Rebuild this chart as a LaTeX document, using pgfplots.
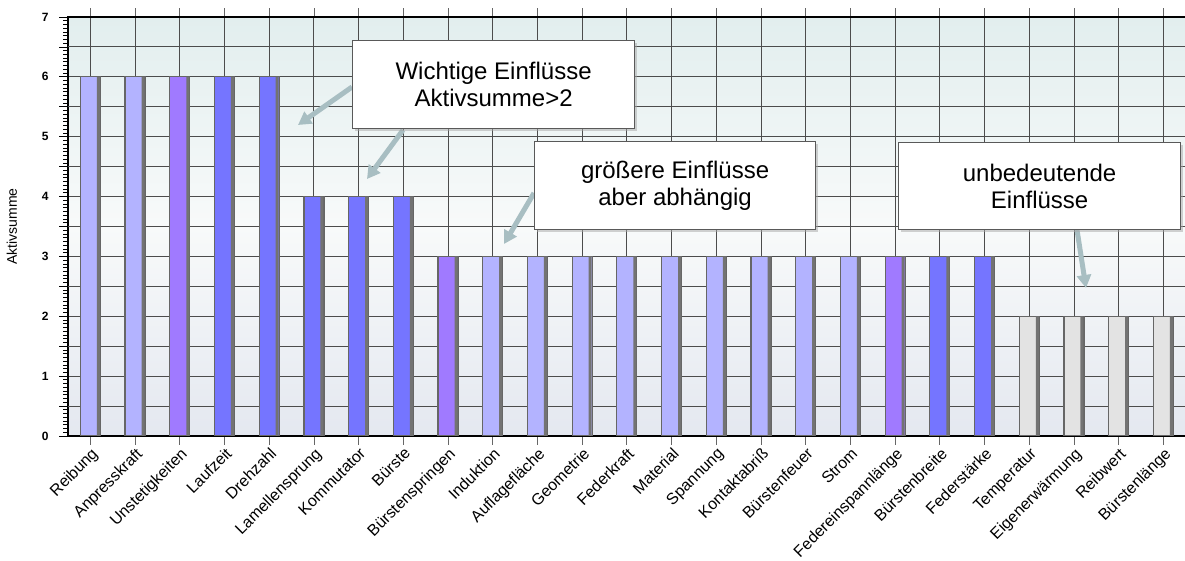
\documentclass[border=0pt]{standalone}
\usepackage{pgfplots}
\pgfplotsset{compat=1.18}
\usepackage{fontspec}
\setmainfont{Liberation Sans}
\usetikzlibrary{arrows.meta,shadows}

\definecolor{lav}{RGB}{179,179,255}
\definecolor{pur}{RGB}{160,122,255}
\definecolor{blu}{RGB}{117,117,255}
\definecolor{lgr}{RGB}{227,227,227}
\definecolor{arr}{RGB}{168,190,194}
\definecolor{bgtop}{RGB}{226,238,238}
\definecolor{bgmid}{RGB}{248,250,250}
\definecolor{bgbot}{RGB}{228,232,240}

\begin{document}
\begin{tikzpicture}[x=1pt,y=1pt]
\useasboundingbox (0,0) rectangle (1185,561);
\begin{axis}[
  at={(68pt,125pt)}, anchor=south west,
  scale only axis, width=1120pt, height=419pt,
  xmin=-0.5, xmax=24.556, ymin=0, ymax=7,
  axis background/.style={top color=bgtop, bottom color=bgbot, middle color=bgmid},
  axis line style={black, line width=1.6pt},
  ytick={0,...,7},
  minor y tick num=15,
  extra y ticks={0.5,1.5,2.5,3.5,4.5,5.5,6.5},
  extra y tick labels={},
  extra y tick style={grid=major},
  ymajorgrids, xmajorgrids,
  grid style={black!70, line width=0.9pt},
  tick align=outside,
  major tick length=9pt, minor tick length=5pt,
  every tick/.style={black, line width=0.8pt},
  /pgf/number format/assume math mode=true,
  y tick label style={font=\fontsize{12}{12}\selectfont\bfseries, xshift=-7pt},
  xtick={0,...,24},
  x tick style={black!60, line width=0.8pt},
  xticklabels={Reibung,Anpresskraft,Unstetigkeiten,Laufzeit,Drehzahl,Lamellensprung,Kommutator,Bürste,Bürstenspringen,Induktion,Auflagefläche,Geometrie,Federkraft,Material,Spannung,Kontaktabriß,Bürstenfeuer,Strom,Federeinspannlänge,Bürstenbreite,Federstärke,Temperatur,Eigenerwärmung,Reibwert,Bürstenlänge},
  x tick label style={rotate=45, anchor=north east, font=\fontsize{16}{16}\selectfont, inner sep=1pt},
  ylabel={Aktivsumme},
  every axis y label/.style={at={(axis description cs:-0.05,0.5)}, rotate=90, anchor=center, font=\fontsize{14}{14}\selectfont},
  every axis plot/.append style={ybar, bar width=20pt, bar shift=0pt, draw=black!60, line width=1.2pt},
]
\addplot[fill=lav] coordinates {(0,6)(1,6)(9,3)(10,3)(11,3)(12,3)(13,3)(14,3)(15,3)(16,3)(17,3)};
\addplot[fill=pur] coordinates {(2,6)(8,3)(18,3)};
\addplot[fill=blu] coordinates {(3,6)(4,6)(5,4)(6,4)(7,4)(19,3)(20,3)};
\addplot[fill=lgr] coordinates {(21,2)(22,2)(23,2)(24,2)};
\addplot[bar width=3pt, bar shift=8pt, fill=black!55, draw=none] coordinates {(0,6)(1,6)(2,6)(3,6)(4,6)(5,4)(6,4)(7,4)(8,3)(9,3)(10,3)(11,3)(12,3)(13,3)(14,3)(15,3)(16,3)(17,3)(18,3)(19,3)(20,3)(21,2)(22,2)(23,2)(24,2)};
\end{axis}
% callout arrows
\draw[arr, line width=5pt, -{Triangle[width=14pt,length=13pt]}] (352,474) -- (298,436);
\draw[arr, line width=5pt, -{Triangle[width=14pt,length=13pt]}] (403,431) -- (367,382);
\draw[arr, line width=5pt, -{Triangle[width=14pt,length=13pt]}] (534,368) -- (504,317);
\draw[arr, line width=5pt, -{Triangle[width=14pt,length=13pt]}] (1077,331) -- (1086,273);
% callout boxes
\tikzset{callout/.style={draw=black!65, line width=1.2pt, fill=white, drop shadow={shadow xshift=2pt, shadow yshift=-2pt, fill=black!35}, align=center, font=\fontsize{24}{27}\selectfont, anchor=north west, inner sep=0pt}}
\node[callout, minimum width=282pt, minimum height=88pt] at (352,521) {Wichtige Einflüsse\\Aktivsumme>2};
\node[callout, minimum width=281pt, minimum height=88pt] at (534,420) {größere Einflüsse\\aber abhängig};
\node[callout, minimum width=282pt, minimum height=87pt] at (898,419) {unbedeutende\\Einflüsse};
\end{tikzpicture}
\end{document}
